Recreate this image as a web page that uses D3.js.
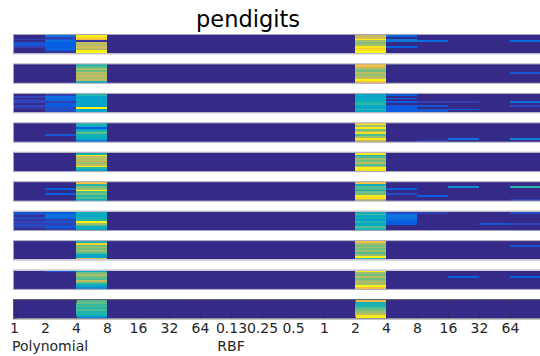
<!DOCTYPE html>
<html>
<head>
<meta charset="utf-8">
<script src="https://cdn.jsdelivr.net/npm/d3@7"></script>
<style>
  html, body { margin: 0; padding: 0; background: #fff; }
  svg { display: block; }
  text { font-family: "DejaVu Sans", sans-serif; }
</style>
</head>
<body>
<svg id="chart" width="540" height="356"></svg>
<script>
// Kernel settings along the x axis (polynomial degree, then RBF width)
const tickLabels = ["1", "2", "4", "8", "16", "32", "64",
                    "0.13", "0.25", "0.5", "1", "2", "4", "8", "16", "32", "64"];
const groupLabels = ["Polynomial", "RBF"];
const title = "pendigits";

// Selection scores, one matrix per trial: 10 rows x 17 kernel settings
const trial1 = [
  [0,.18,.97,0,0,0,0,0,0,0,0,.72,.15,0,0,0,0],
  [0,.05,.9,0,0,0,0,0,0,0,0,.74,0,0,0,0,0],
  [.06,.1,.8,0,0,0,0,0,0,0,0,.97,.2,0,0,0,0],
  [0,.16,.03,0,0,0,0,0,0,0,0,.66,.2,.15,0,0,.15],
  [.1,.13,.72,0,0,0,0,0,0,0,0,.6,0,0,0,0,0],
  [.1,.13,.66,0,0,0,0,0,0,0,0,.66,0,0,0,0,0],
  [.05,.12,.74,0,0,0,0,0,0,0,0,.95,.13,0,0,0,0],
  [0,.13,.7,0,0,0,0,0,0,0,0,.88,0,0,0,0,0],
  [0,.1,.95,0,0,0,0,0,0,0,0,.95,0,0,0,0,0],
  [0,.03,1,0,0,0,0,0,0,0,0,.98,0,0,0,0,0]
];
const trial2 = [
  [0,0,.47,0,0,0,0,0,0,0,0,.84,0,0,0,0,0],
  [0,0,.53,0,0,0,0,0,0,0,0,.76,0,0,0,0,0],
  [0,0,.66,0,0,0,0,0,0,0,0,.64,0,0,0,0,0],
  [0,0,.58,0,0,0,0,0,0,0,0,.58,0,0,0,0,0],
  [0,0,.7,0,0,0,0,0,0,0,0,.7,0,0,0,0,.1],
  [0,0,.62,0,0,0,0,0,0,0,0,.62,0,0,0,0,0],
  [0,0,.72,0,0,0,0,0,0,0,0,.64,0,0,0,0,0],
  [0,0,.66,0,0,0,0,0,0,0,0,.72,0,0,0,0,0],
  [0,0,.72,0,0,0,0,0,0,0,0,.98,0,0,0,0,0],
  [0,0,.42,0,0,0,0,0,0,0,0,.84,0,0,0,0,0]
];
const trial3 = [
  [0,.06,.47,0,0,0,0,0,0,0,0,.38,.12,0,0,0,0],
  [.06,.17,.36,0,0,0,0,0,0,0,0,.36,0,0,0,0,0],
  [0,.17,.34,0,0,0,0,0,0,0,0,.42,.15,0,0,0,0],
  [.05,.15,.36,0,0,0,0,0,0,0,0,.38,0,0,0,0,0],
  [.07,.05,.38,0,0,0,0,0,0,0,0,.44,.12,.05,.05,0,.18],
  [0,.12,.36,0,0,0,0,0,0,0,0,.48,0,0,0,0,0],
  [.06,.12,.34,0,0,0,0,0,0,0,0,.38,.1,.1,0,0,.06],
  [.04,.08,.98,0,0,0,0,0,0,0,0,.38,.12,0,0,0,0],
  [0,.08,.34,0,0,0,0,0,0,0,0,.48,.12,.1,.12,0,0],
  [0,.08,.36,0,0,0,0,0,0,0,0,.38,.12,.1,0,0,0]
];
const trial4 = [
  [0,0,.45,0,0,0,0,0,0,0,0,.92,0,0,0,0,0],
  [0,0,.42,0,0,0,0,0,0,0,0,.64,0,0,0,0,0],
  [0,0,.12,0,0,0,0,0,0,0,0,.95,0,0,0,0,0],
  [0,0,.38,0,0,0,0,0,0,0,0,.58,0,0,0,0,0],
  [0,0,.48,0,0,0,0,0,0,0,0,.7,0,0,0,0,0],
  [0,0,.55,0,0,0,0,0,0,0,0,.92,0,0,0,0,0],
  [0,.1,.44,0,0,0,0,0,0,0,0,.53,0,0,0,0,0],
  [0,0,.42,0,0,0,0,0,0,0,0,.64,0,0,0,0,0],
  [0,0,.38,0,0,0,0,0,0,0,0,.95,0,0,.18,0,.22],
  [0,0,.2,0,0,0,0,0,0,0,0,.72,0,.05,0,0,0]
];
const trial5 = [
  [0,0,.44,0,0,0,0,0,0,0,0,.95,0,0,0,0,0],
  [0,0,.95,0,0,0,0,0,0,0,0,.47,0,0,0,0,0],
  [0,0,.7,0,0,0,0,0,0,0,0,.53,0,0,0,0,0],
  [0,0,.68,0,0,0,0,0,0,0,0,.64,0,0,0,0,0],
  [0,0,.7,0,0,0,0,0,0,0,0,.58,0,0,0,0,0],
  [0,0,.64,0,0,0,0,0,0,0,0,.7,0,0,0,0,0],
  [0,0,.7,0,0,0,0,0,0,0,0,.53,0,0,0,0,0],
  [0,0,.95,0,0,0,0,0,0,0,0,.64,0,0,0,0,0],
  [0,0,.48,0,0,0,0,0,0,0,0,.97,0,0,0,0,0],
  [0,0,.38,0,0,0,0,0,0,0,0,.92,0,0,0,0,0]
];
const trial6 = [
  [0,0,.84,0,0,0,0,0,0,0,0,.84,0,0,0,0,0],
  [0,0,.47,0,0,0,0,0,0,0,0,.42,0,0,0,0,0],
  [0,0,.58,0,0,0,0,0,0,0,0,.53,0,0,.28,0,.47],
  [0,.12,.64,0,0,0,0,0,0,0,0,.53,.12,0,0,0,0],
  [0,0,.98,0,0,0,0,0,0,0,0,.42,0,0,0,0,0],
  [0,0,.53,0,0,0,0,0,0,0,0,.58,0,0,0,0,0],
  [0,.12,.58,0,0,0,0,0,0,0,0,.58,.08,0,0,0,0],
  [0,0,.47,0,0,0,0,0,0,0,0,.95,0,.12,0,0,0],
  [0,0,.53,0,0,0,0,0,0,0,0,.92,0,0,0,0,0],
  [0,0,.42,0,0,0,0,0,0,0,0,.72,0,0,0,0,.05]
];
const trial7 = [
  [.1,.12,.42,0,0,0,0,0,0,0,0,.42,.08,.05,0,0,.08],
  [.08,.18,.4,0,0,0,0,0,0,0,0,.53,.18,0,0,0,0],
  [.02,.18,.36,0,0,0,0,0,0,0,0,.38,.2,0,0,0,0],
  [.08,.15,.42,0,0,0,0,0,0,0,0,.42,.18,0,0,0,0],
  [.03,.05,.47,0,0,0,0,0,0,0,0,.34,.15,0,0,0,0],
  [.06,.1,.97,0,0,0,0,0,0,0,0,.47,.12,0,0,0,0],
  [.05,.05,.64,0,0,0,0,0,0,0,0,.38,.12,0,0,.1,.06],
  [.1,.08,.53,0,0,0,0,0,0,0,0,.4,0,0,0,0,0],
  [.05,.12,.42,0,0,0,0,0,0,0,0,.53,0,0,0,0,0],
  [.02,.05,.4,0,0,0,0,0,0,0,0,.45,0,0,0,0,0]
];
const trial8 = [
  [0,0,.44,0,0,0,0,0,0,0,0,.84,0,0,0,0,0],
  [0,0,.88,0,0,0,0,0,0,0,0,.64,0,0,0,0,0],
  [0,0,.58,0,0,0,0,0,0,0,0,.58,0,0,0,0,.1],
  [0,0,.64,0,0,0,0,0,0,0,0,.64,0,0,0,0,0],
  [0,0,.58,0,0,0,0,0,0,0,0,.58,0,0,0,0,0],
  [0,0,.64,0,0,0,0,0,0,0,0,.64,0,0,0,0,0],
  [0,0,.53,0,0,0,0,0,0,0,0,.53,0,0,0,0,0],
  [0,0,.38,0,0,0,0,0,0,0,0,.64,0,0,0,0,0],
  [0,0,.34,0,0,0,0,0,0,0,0,.98,0,0,0,0,0],
  [0,0,.74,0,0,0,0,0,0,0,0,.47,0,0,0,0,0]
];
const trial9 = [
  [0,.1,.4,0,0,0,0,0,0,0,0,.95,0,0,0,0,0],
  [0,0,.58,0,0,0,0,0,0,0,0,.64,0,0,0,0,0],
  [0,0,.66,0,0,0,0,0,0,0,0,.58,0,0,0,0,0],
  [0,0,.58,0,0,0,0,0,0,0,0,.7,0,0,.12,0,.12],
  [0,0,.53,0,0,0,0,0,0,0,0,.58,0,0,0,0,0],
  [0,0,.7,0,0,0,0,0,0,0,0,.64,0,0,0,0,0],
  [0,0,.58,0,0,0,0,0,0,0,0,.72,0,0,0,0,0],
  [0,0,.47,0,0,0,0,0,0,0,0,.64,0,0,0,0,0],
  [0,0,.38,0,0,0,0,0,0,0,0,.98,0,0,0,0,0],
  [0,0,.26,0,0,0,0,0,0,0,0,.84,0,0,0,0,0]
];
const trial10 = [
  [0,0,.53,0,0,0,0,0,0,0,0,.8,0,0,0,0,0],
  [0,0,.56,0,0,0,0,0,0,0,0,.44,0,0,0,0,0],
  [0,0,.5,0,0,0,0,0,0,0,0,.44,0,0,0,0,0],
  [0,0,.53,0,0,0,0,0,0,0,0,.47,0,0,0,0,0],
  [0,0,.47,0,0,0,0,0,0,0,0,.53,0,0,0,0,0],
  [0,0,.53,0,0,0,0,0,0,0,0,.58,0,0,0,0,0],
  [0,0,.45,0,0,0,0,0,0,0,0,.64,0,0,0,0,0],
  [0,0,.47,0,0,0,0,0,0,0,0,.7,0,0,0,0,0],
  [0,0,.38,0,0,0,0,0,0,0,0,.95,0,0,0,0,0],
  [0,0,.2,0,0,0,0,0,0,0,0,.98,0,0,0,0,0]
];
const trials = [trial1, trial2, trial3, trial4, trial5, trial6, trial7, trial8, trial9, trial10];

// Parula colormap stops
const parula = ["#352a87", "#3243ba", "#035fe1", "#0d75dc", "#1485d4", "#0998d1",
                "#06a7c6", "#15b1b4", "#38b99e", "#65be86", "#92bf73", "#b7bd64",
                "#d9ba56", "#f8bb44", "#fcce2e", "#f5e41d", "#f9fb0e"];

const svg = d3.select("#chart");
const nRows = trials[0].length;
const nCols = tickLabels.length;

const x = d3.scaleLinear().domain([0, nCols]).range([14, 541]);
const panel = d3.scaleBand().domain(d3.range(trials.length))
  .range([35, 318.35]).paddingInner(0.379).paddingOuter(0);
const color = d3.scaleLinear()
  .domain(parula.map((_, i) => i / (parula.length - 1)))
  .range(parula).clamp(true);

trials.forEach((m, k) => {
  const top = panel(k);
  const y = d3.scaleLinear().domain([0, nRows]).range([top, top + panel.bandwidth()]);
  const g = svg.append("g");
  const cells = m.flatMap((row, i) => row.map((v, j) => ({ i, j, v })));
  g.selectAll("rect.cell").data(cells).join("rect")
    .attr("class", "cell")
    .attr("x", d => x(d.j))
    .attr("y", d => y(d.i))
    .attr("width", d => x(d.j + 1) - x(d.j))
    .attr("height", d => y(d.i + 1) - y(d.i) + 0.02)
    .attr("fill", d => color(d.v))
    .attr("shape-rendering", "crispEdges");

  const last = k === trials.length - 1;
  if (last) {
    // inward tick marks on the bottom strip
    const ticks = d3.range(1, nCols);
    g.selectAll("line.tb").data(ticks).join("line")
      .attr("x1", d => x(d) + 0.5).attr("x2", d => x(d) + 0.5)
      .attr("y1", y(0)).attr("y2", y(0) + 3)
      .attr("stroke", "#262626").attr("stroke-opacity", 0.55);
    g.selectAll("line.bb").data(ticks).join("line")
      .attr("x1", d => x(d) + 0.5).attr("x2", d => x(d) + 0.5)
      .attr("y1", y(nRows)).attr("y2", y(nRows) - 3)
      .attr("stroke", "#262626").attr("stroke-opacity", 0.55);
    g.selectAll("line.yl").data(d3.range(0, nRows + 1, 2)).join("line")
      .attr("x1", x(0)).attr("x2", x(0) + 3)
      .attr("y1", d => y(d)).attr("y2", d => y(d))
      .attr("stroke", "#262626").attr("stroke-opacity", 0.55);
  }
  g.append("rect")
    .attr("x", x(0) - 0.5).attr("y", y(0) - 0.5)
    .attr("width", x(nCols) - x(0) + 1).attr("height", y(nRows) - y(0) + 1)
    .attr("fill", "none")
    .attr("stroke", last ? "#5a5a66" : "#a3a3b8")
    .attr("stroke-width", 1);
});

// x axis labels under the last strip
const axis = d3.axisBottom(x)
  .tickValues(d3.range(nCols))
  .tickFormat(i => tickLabels[i])
  .tickSize(0).tickPadding(0);
const ax = svg.append("g").attr("transform", "translate(0,320)").call(axis);
ax.select(".domain").remove();
ax.selectAll("text")
  .attr("dy", "0")
  .attr("y", 13)
  .style("font-family", "'DejaVu Sans', sans-serif")
  .style("font-size", "14px")
  .attr("fill", "#262626");

svg.append("text")
  .attr("x", x(0) - 2).attr("y", 351)
  .attr("font-size", 14).attr("fill", "#262626")
  .text(groupLabels[0]);
svg.append("text")
  .attr("x", x(7)).attr("y", 351)
  .attr("text-anchor", "middle")
  .attr("font-size", 14).attr("fill", "#262626")
  .text(groupLabels[1]);

svg.append("text")
  .attr("x", 248).attr("y", 27)
  .attr("text-anchor", "middle")
  .attr("font-size", 22.5).attr("fill", "#000")
  .text(title);
</script>
</body>
</html>
